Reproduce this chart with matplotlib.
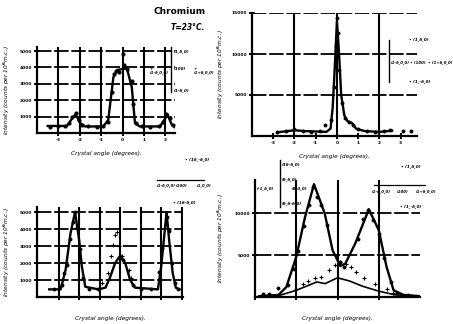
import matplotlib
matplotlib.use("Agg")
import matplotlib.pyplot as plt

W, H = 453, 324

# ---- top left: (100) scan, 5000 scale ----
tl_curve_x = [-3.5, -2.6, -2.35, -2.2, -1.98, -1.75, -0.9, -0.67, -0.43, -0.25, 0.2, 0.43, 0.58, 0.8, 1.75, 2.0, 2.1, 2.3, 2.45]
tl_curve_y = [430, 430, 900, 1150, 600, 400, 400, 800, 3400, 3850, 3950, 2800, 600, 400, 400, 900, 1150, 500, 350]
tl_dots_x = [-3.4, -3.0, -2.7, -2.5, -2.35, -2.2, -2.05, -1.9, -1.6, -1.2, -0.9, -0.7, -0.5, -0.4, -0.3, -0.15, 0.0, 0.05, 0.2, 0.43, 0.5, 0.62, 0.9, 1.3, 1.7, 1.9, 2.05, 2.2, 2.35]
tl_dots_y = [380, 420, 450, 600, 950, 1200, 800, 500, 400, 380, 420, 700, 2500, 3600, 3800, 3750, 4850, 4150, 3900, 3200, 1800, 600, 400, 380, 420, 700, 1150, 900, 500]
tl_xticks = [-3, -2, -1, 0, 1, 2]
tl_yticks = [1000, 2000, 3000, 4000, 5000]

# ---- top right: sharp (100) peak, 15000 scale ----
tr_curve_x = [-2.8, -2.0, -1.5, -1.0, -0.5, -0.3, -0.2, -0.1, 0.0, 0.1, 0.2, 0.35, 0.5, 0.7, 0.9, 1.3, 2.0, 2.6]
tr_curve_y = [450, 700, 600, 550, 500, 900, 3500, 8500, 14000, 10000, 5000, 2500, 1800, 1600, 900, 600, 500, 650]
tr_dots_x = [-2.8, -2.4, -2.0, -1.6, -1.2, -0.8, -0.57, -0.3, -0.15, -0.05, 0.0, 0.05, 0.12, 0.25, 0.4, 0.55, 0.75, 1.0, 1.4, 1.8, 2.2, 2.5, 3.1, 3.5]
tr_dots_y = [500, 550, 800, 600, 500, 550, 1350, 2000, 6000, 11000, 14400, 12500, 8000, 4000, 2200, 1700, 1400, 800, 600, 500, 600, 700, 600, 600]
tr_xticks = [-3, -2, -1, 0, 1, 2, 3]
tr_xgrid = [-2, 0, 2]
tr_yticks = [5000, 10000, 15000]

# ---- bottom left: three peaks ----
bl_curve_x = [-3.46, -2.9, -2.66, -2.42, -2.2, -2.0, -1.87, -1.7, -1.06, -0.72, -0.5, -0.25, 0.0, 0.24, 0.48, 0.72, 1.83, 1.99, 2.15, 2.25, 2.38, 2.55, 2.7, 2.88]
bl_curve_y = [450, 450, 1600, 3750, 5000, 3350, 1800, 600, 450, 550, 1150, 2000, 2450, 2000, 1000, 550, 450, 1800, 3750, 5000, 3300, 1400, 550, 450]
bl_dots_x = [-3.2, -2.85, -2.75, -2.6, -2.45, -2.3, -2.2, -2.1, -1.95, -1.8, -1.5, -1.1, 0.0, 0.15, 0.6, 1.0, 1.5, 1.9, 2.05, 2.2, 2.28, 2.35, 2.5, 2.65, 2.8]
bl_dots_y = [450, 700, 1400, 1900, 3400, 4400, 5000, 4100, 2800, 1100, 500, 450, 2300, 2200, 700, 450, 450, 1500, 2900, 4300, 4700, 3900, 2000, 800, 450]
bl_cross_x = [-0.9, -0.58, -0.45, -0.34, -0.26, -0.18, -0.05, 0.1, 0.4, 0.5]
bl_cross_y = [800, 1400, 2400, 3050, 3650, 3800, 3000, 2400, 1600, 1100]
bl_xticks = [-3, -2, -1, 0, 1, 2, 3]
bl_yticks = [1000, 2000, 3000, 4000, 5000]

# ---- bottom right: split peak ----
br_upper_x = [-1.9, -1.43, -1.24, -1.0, -0.79, -0.57, -0.31, -0.12, 0.07, 0.19, 0.43, 0.76, 1.0, 1.19, 1.36, 1.6, 2.0]
br_upper_y = [100, 250, 1200, 4800, 9500, 13500, 10000, 5600, 3700, 4000, 6400, 10500, 8000, 3600, 800, 250, 100]
br_lower_x = [-1.9, -1.4, -1.0, -0.7, -0.5, -0.3, 0.0, 0.3, 0.6, 1.0, 1.4, 2.0]
br_lower_y = [100, 200, 800, 1400, 1800, 1600, 2300, 1900, 1300, 700, 250, 100]
br_dots_x = [-1.8, -1.65, -1.45, -1.2, -1.05, -0.95, -0.82, -0.7, -0.6, -0.5, -0.4, -0.25, 0.05, 0.15, 0.5, 0.62, 0.75, 0.85, 1.0, 1.12, 1.3, 1.45, 1.7]
br_dots_y = [300, 350, 1100, 1400, 3300, 5500, 8500, 11000, 13200, 12000, 11000, 8600, 4200, 3600, 7000, 9300, 10400, 9200, 7500, 4700, 1800, 500, 200]
br_cross_x = [-1.0, -0.83, -0.71, -0.55, -0.4, -0.2, -0.07, 0.07, 0.2, 0.33, 0.45, 0.65, 0.9, 1.2, 1.35]
br_cross_y = [1000, 1500, 1950, 2250, 2400, 3200, 3800, 4200, 4000, 3600, 3000, 2300, 1500, 900, 500]
br_xticks = [-2, -1, 0, 1]
br_xgrid = [-1, 0, 1]
br_yticks = [5000, 10000]

xlabel = "Crystal angle (degrees)."
ylabel = "Intensity (counts per 10$^6$m.c.)"

plt.rcParams["font.family"] = "DejaVu Sans"
plt.rcParams["font.weight"] = "bold"

fig = plt.figure(figsize=(W / 100, H / 100), dpi=100)
fig.patch.set_facecolor("white")


def px_axes(left, top, right, bottom):
    # axes placed by pixel box of the reference
    return fig.add_axes([left / W, 1 - bottom / H, (right - left) / W, (bottom - top) / H])


def style(ax, xlim, ylim, xticks, yticks, xgrid, ygrid):
    ax.set_xlim(*xlim)
    ax.set_ylim(*ylim)
    for s in ["top", "right"]:
        ax.spines[s].set_visible(False)
    for s in ["left", "bottom"]:
        ax.spines[s].set_linewidth(1.6)
    ax.vlines(xgrid, ylim[0], ylim[1], colors="black", linewidths=1.5, zorder=2)
    ax.hlines(ygrid, xlim[0], xlim[1], colors="black", linewidths=1.3,
              linestyles=(0, (8, 1.5)), zorder=2)
    ax.set_xlim(*xlim)
    ax.set_ylim(*ylim)
    ax.set_xticks(xticks)
    ax.set_xticklabels([str(t) for t in xticks], fontsize=3.2)
    ax.set_yticks(yticks)
    ax.set_yticklabels([str(t) for t in yticks], fontsize=3.2)
    ax.tick_params(direction="inout", length=4.5, width=1.4, pad=1.5)


def curve(ax, x, y, lw=1.7):
    ax.plot(x, y, color="black", lw=lw, zorder=3)


# top left
ax1 = px_axes(37, 47, 175, 133)
style(ax1, (-4.0, 2.45), (0, 5250), tl_xticks, tl_yticks, tl_xticks, tl_yticks)
curve(ax1, tl_curve_x, tl_curve_y)
ax1.plot(tl_dots_x, tl_dots_y, "o", color="black", ms=2, zorder=4)
ax1.set_xlabel(xlabel, fontsize=4.2, labelpad=6, style="italic")
ax1.set_ylabel(ylabel, fontsize=4.2, labelpad=5, style="italic")

# top right
ax2 = px_axes(252, 13, 417, 136)
style(ax2, (-4.0, 3.77), (0, 15000), tr_xticks, tr_yticks, tr_xgrid, tr_yticks)
curve(ax2, tr_curve_x, tr_curve_y)
ax2.plot(tr_dots_x, tr_dots_y, "o", color="black", ms=1.8, zorder=4)
ax2.set_xlabel(xlabel, fontsize=4.2, labelpad=6, style="italic")
ax2.set_ylabel(ylabel, fontsize=4.2, labelpad=4, style="italic")

# bottom left
ax3 = px_axes(37, 207, 183, 297)
style(ax3, (-4.05, 3.05), (0, 5300), bl_xticks, bl_yticks, bl_xticks, bl_yticks)
curve(ax3, bl_curve_x, bl_curve_y)
ax3.plot(bl_dots_x, bl_dots_y, "o", color="black", ms=1.8, zorder=4)
ax3.plot(bl_cross_x, bl_cross_y, "+", color="black", ms=2.5, mew=0.8, zorder=4)
ax3.set_xticklabels(["" for _ in bl_xticks])
ax3.set_xlabel(xlabel, fontsize=4.2, labelpad=10, style="italic")
ax3.set_ylabel(ylabel, fontsize=4.2, labelpad=5, style="italic")

# bottom right
ax4 = px_axes(255, 180, 420, 297)
style(ax4, (-1.95, 2.0), (0, 14000), br_xticks, br_yticks, br_xgrid, br_yticks)
curve(ax4, br_upper_x, br_upper_y)
curve(ax4, br_lower_x, br_lower_y, lw=1.2)
ax4.plot(br_dots_x, br_dots_y, "o", color="black", ms=1.8, zorder=4)
ax4.plot(br_cross_x, br_cross_y, "+", color="black", ms=2.5, mew=0.8, zorder=4)
ax4.set_xticklabels(["" for _ in br_xticks])
ax4.set_xlabel(xlabel, fontsize=4.2, labelpad=10, style="italic")
ax4.set_ylabel(ylabel, fontsize=4.2, labelpad=6, style="italic")

# figure title
fig.text(180 / W, 1 - 12 / H, "Chromium", fontsize=6.5, ha="center", va="center")
fig.text(188 / W, 1 - 27 / H, "T=23°C.", fontsize=5.5, ha="center", va="center", style="italic")


# index labels (figure pixel coords)
def ftxt(x, y, s, size=3.0, ha="left"):
    fig.text(x / W, 1 - y / H, s, fontsize=size, ha=ha, va="center", style="italic")


def fline(xs, ys, lw=1.0):
    fig.add_artist(plt.Line2D([x / W for x in xs], [1 - y / H for y in ys], color="black", lw=lw))


# top left legend
fline([171, 171], [47, 92])
ftxt(174, 52, "(1,δ,0)")
ftxt(174, 69, "(100)")
ftxt(174, 91, "(1-δ,0)")
ftxt(150, 71, "+\n(1-δ,0,0)", size=2.8)
ftxt(194, 71, "+\n(1+δ,0,0)", size=2.8)

# top right legend
fline([389, 389], [40, 82])
ftxt(409, 40, "• (1,δ,0)")
ftxt(391, 63, "(1-δ,0,0)", size=2.8)
ftxt(410, 63, "• (100)", size=2.8)
ftxt(428, 63, "• (1+δ,0,0)", size=2.8)
ftxt(409, 82, "• (1,-δ,0)")

# bottom left legend
ftxt(185, 160, "• (1δ,-δ,0)")
fline([157, 204], [180, 180], lw=0.9)
ftxt(157, 186, "(1-δ,0,0)", size=2.8)
ftxt(176, 186, "(100)", size=2.8)
ftxt(197, 186, "(1,0,0)", size=2.8)
ftxt(173, 203, "• (1δ-δ,0)")

# bottom right legend
fline([280, 280], [160, 207])
ftxt(282, 165, "(1δ-δ,0)")
ftxt(282, 180, "(δ,δ,0)")
ftxt(292, 189, "(δ,0,0)")
ftxt(282, 204, "(δ,δ-δ,0)")
ftxt(257, 189, "(-1,δ,0)")
ftxt(401, 167, "• (1,δ,0)")
fline([374, 425], [185, 185], lw=0.9)
ftxt(372, 192, "(1-δ,0,0)", size=2.8)
ftxt(397, 192, "(100)", size=2.8)
ftxt(416, 192, "(1+δ,0,0)", size=2.8)
ftxt(400, 207, "• (1,-δ,0)")

fig.savefig("out.png", dpi=100)
